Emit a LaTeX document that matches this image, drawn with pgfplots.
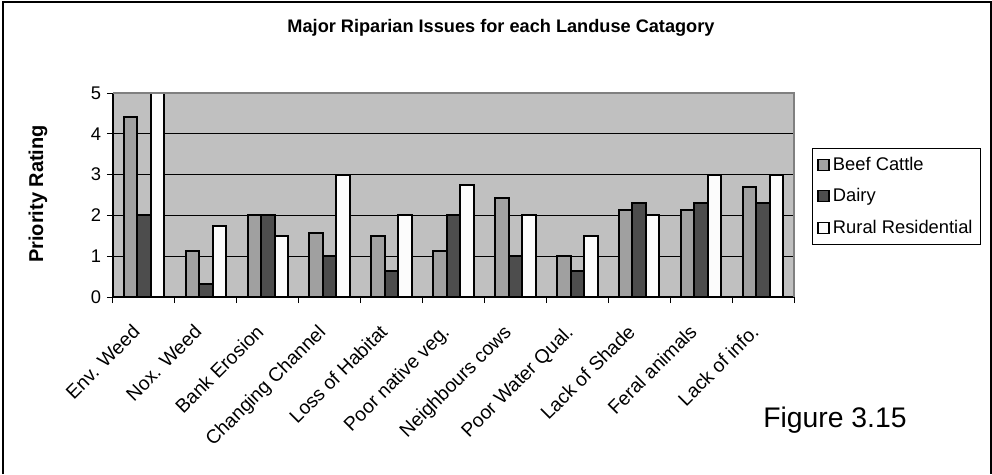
\documentclass[border=0pt]{standalone}
\usepackage{fontspec}
\setmainfont{Liberation Sans}
\usepackage{pgfplots}
\pgfplotsset{compat=1.18}
\definecolor{bg}{HTML}{C0C0C0}
\definecolor{beef}{HTML}{A0A0A0}
\definecolor{dairy}{HTML}{4D4D4D}
\definecolor{rural}{HTML}{FCFCFC}
\definecolor{framegray}{HTML}{808080}
\pgfplotsset{sqlegend/.style={legend image code/.code={\draw[##1,line width=0.7pt] (0pt,-3.3pt) rectangle (6.6pt,3.3pt);}}}
\begin{document}
\begin{tikzpicture}
\useasboundingbox (0,0) rectangle (595.2pt,284.4pt);
\draw[line width=0.9pt] (1.8pt,0pt) -- (1.8pt,283.2pt) -- (594.6pt,283.2pt) -- (594.6pt,0pt);
\node[font=\bfseries\fontsize{10.9}{13}\selectfont] at (300.6pt,267.6pt) {Major Riparian Issues for each Landuse Catagory};
\node[anchor=base west, font=\fontsize{17}{20}\selectfont, inner sep=0pt] at (457.8pt,28.2pt) {Figure 3.15};
\begin{axis}[
 at={(67.8pt,106.2pt)}, anchor=south west,
 scale only axis, width=408.6pt, height=122.4pt,
 ybar=0pt, bar width=8.1pt,
 xmin=-0.5, xmax=10.5, ymin=0, ymax=5,
 clip=false,
 axis x line*=bottom, axis y line*=left,
 axis line style={-, black, line width=0.9pt},
 axis background/.style={fill=bg},
 xtick={0,...,10},
 xticklabels={Env. Weed, Nox. Weed, Bank Erosion, Changing Channel, Loss of Habitat, Poor native veg., Neighbours cows, Poor Water Qual., Lack of Shade, Feral animals, Lack of info.},
 minor xtick={-0.5,0.5,1.5,2.5,3.5,4.5,5.5,6.5,7.5,8.5,9.5,10.5},
 major x tick style={draw=none},
 tick align=outside,
 major tick length=3.6pt, minor tick length=3.6pt,
 tick style={black, line width=0.6pt},
 ytick={0,1,2,3,4,5},
 ymajorgrids, major grid style={black, line width=0.6pt},
 /pgf/number format/assume math mode=true,
 tick label style={font=\fontsize{11}{13}\selectfont},
 xticklabel style={xshift=-7.8pt, yshift=-3pt, rotate=45, anchor=north east, inner sep=0pt, font=\fontsize{11.6}{13}\selectfont},
 xticklabel shift=9pt,
 ylabel={Priority Rating},
 ylabel style={at={(axis description cs:-0.110,0.505)}, anchor=center, rotate=0, font=\bfseries\fontsize{12}{14}\selectfont},
 legend style={at={(1.0264,0.7304)}, anchor=north west, draw=black, line width=0.6pt, font=\fontsize{11}{13}\selectfont, row sep=5.5pt, inner sep=3pt, cells={anchor=west}},
]
\addplot[fill=beef, draw=black, line width=1.2pt, sqlegend] coordinates {(0,4.42) (1,1.13) (2,2) (3,1.56) (4,1.5) (5,1.13) (6,2.42) (7,1) (8,2.13) (9,2.13) (10,2.70)};
\addplot[fill=dairy, draw=black, line width=1.2pt, sqlegend] coordinates {(0,2) (1,0.32) (2,2) (3,1) (4,0.64) (5,2) (6,1) (7,0.64) (8,2.31) (9,2.31) (10,2.31)};
\addplot[fill=rural, draw=black, line width=1.2pt, sqlegend] coordinates {(0,5) (1,1.74) (2,1.5) (3,3) (4,2) (5,2.74) (6,2) (7,1.5) (8,2) (9,3) (10,3)};
\legend{Beef Cattle, Dairy, Rural Residential}
\draw[framegray, line width=1.2pt] (rel axis cs:0,1) -- (rel axis cs:1,1) -- (rel axis cs:1,0);
\end{axis}
\end{tikzpicture}
\end{document}
